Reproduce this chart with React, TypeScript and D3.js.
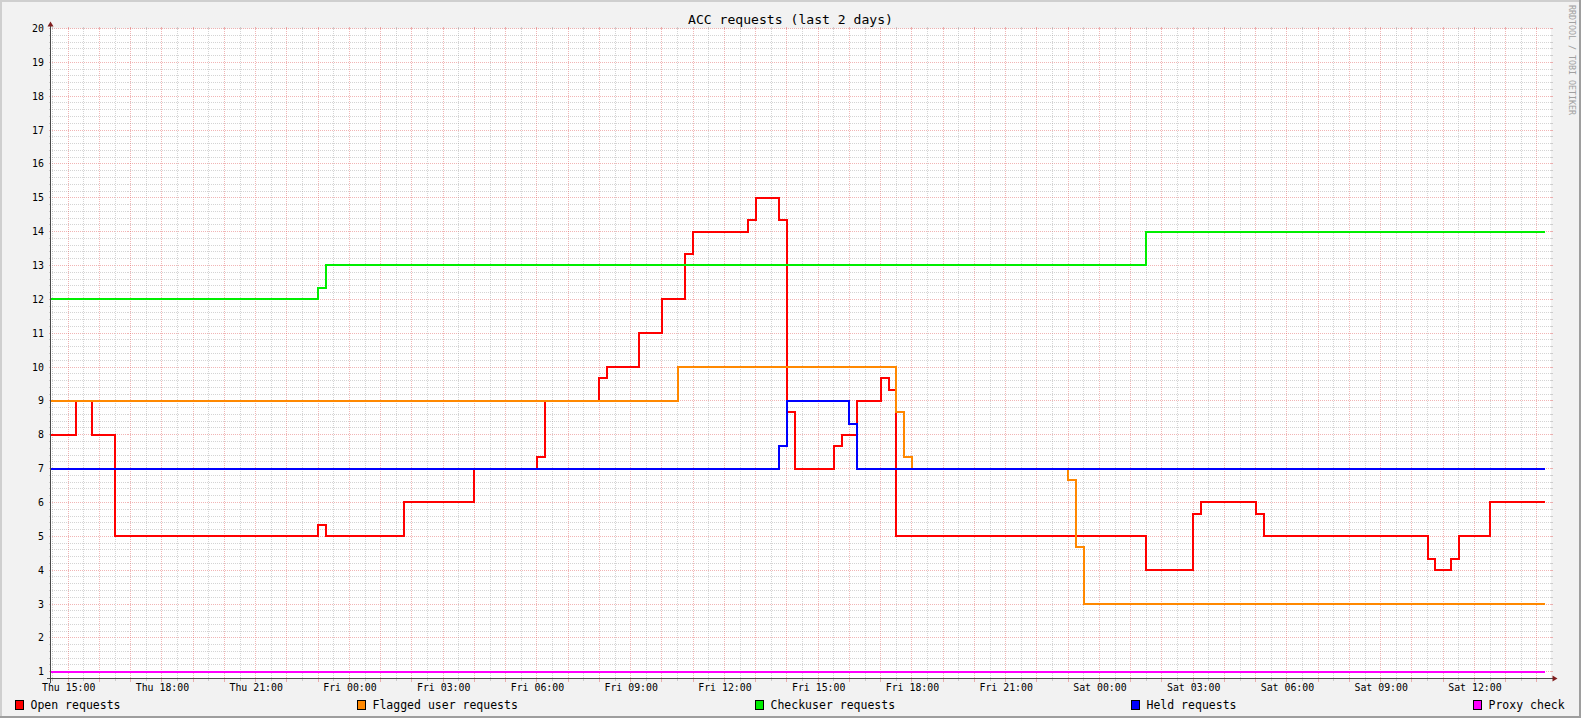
import React from 'react';
import * as d3 from 'd3';

// ---------------- data ----------------
const TITLE = 'ACC requests (last 2 days)';
const WATERMARK = 'RRDTOOL / TOBI OETIKER';

const RANGE_START = 'Thu 14:26';
const RANGE_END = 'Sat 14:26';
const DATA_END = 'Sat 14:15';

const Y_MIN = 0.8;
const Y_MAX = 20;
const yTickValues = [1, 2, 3, 4, 5, 6, 7, 8, 9, 10, 11, 12, 13, 14, 15, 16, 17, 18, 19, 20];

const seriesNames = ['Open requests', 'Flagged user requests', 'Checkuser requests', 'Held requests', 'Proxy check'];

const openTimes = ['Thu 14:26', 'Thu 15:15', 'Thu 15:45', 'Thu 16:30', 'Thu 23:00', 'Thu 23:15', 'Fri 01:45', 'Fri 04:00', 'Fri 06:00', 'Fri 06:15', 'Fri 08:00', 'Fri 08:15', 'Fri 09:15', 'Fri 10:00', 'Fri 10:45', 'Fri 11:00', 'Fri 12:45', 'Fri 13:00', 'Fri 13:45', 'Fri 14:00', 'Fri 14:15', 'Fri 15:30', 'Fri 15:45', 'Fri 16:15', 'Fri 17:00', 'Fri 17:15', 'Fri 17:30', 'Sat 01:30', 'Sat 03:00', 'Sat 03:15', 'Sat 05:00', 'Sat 05:15', 'Sat 10:30', 'Sat 10:45', 'Sat 11:15', 'Sat 11:30', 'Sat 12:30'];
const openValues = [8, 9, 8, 5, 5.33, 5, 6, 7, 7.33, 9, 9.67, 10, 11, 12, 13.33, 14, 14.33, 15, 14.33, 8.67, 7, 7.67, 8, 9, 9.67, 9.33, 5, 4, 5.67, 6, 5.67, 5, 4.33, 4, 4.33, 5, 6];

const flaggedTimes = ['Thu 14:26', 'Fri 10:30', 'Fri 17:30', 'Fri 17:45', 'Fri 18:00', 'Fri 23:00', 'Fri 23:15', 'Fri 23:30'];
const flaggedValues = [9, 10, 8.67, 7.33, 7, 6.67, 4.67, 3];

const checkuserTimes = ['Thu 14:26', 'Thu 23:00', 'Thu 23:15', 'Sat 01:30'];
const checkuserValues = [12, 12.33, 13, 14];

const heldTimes = ['Thu 14:26', 'Fri 13:45', 'Fri 14:00', 'Fri 16:00', 'Fri 16:15'];
const heldValues = [7, 7.67, 9, 8.33, 7];

const proxyTimes = ['Thu 14:26'];
const proxyValues = [1];

// ---------------- styles / layout ----------------
const W = 1581;
const H = 718;
const X0 = 50.5;
const XSIZE = 1500;
const Y0 = 678.5;
const YSIZE = 650;
const X1 = X0 + XSIZE;
const Y1 = Y0 - YSIZE;
const FONT = "'DejaVu Sans Mono', monospace";
const seriesColors = ['#FF0000', '#FF8800', '#00EE00', '#0000FF', '#FF00FF'];
const legendBoxX = [15.5, 357.5, 755.5, 1131.5, 1473.5];
const MINOR = 'rgba(143,143,143,0.38)';
const MAJOR = 'rgba(222,79,79,0.42)';

const DAYS: Record<string, number> = { Thu: 0, Fri: 1, Sat: 2 };
function parseT(s: string): Date {
  const [d, hm] = s.split(' ');
  const [h, m] = hm.split(':').map(Number);
  return new Date(2024, 0, 4 + DAYS[d], h, m);
}

export default function App() {
  const start = parseT(RANGE_START);
  const end = parseT(RANGE_END);
  const dataEnd = parseT(DATA_END);
  const x = d3.scaleTime().domain([start, end]).range([X0, X1]);
  const y = d3.scaleLinear().domain([Y_MIN, Y_MAX]).range([Y0, Y1]);
  const px = (v: number) => Math.round(v - 0.5) + 0.5;

  const series = [
    [openTimes, openValues],
    [flaggedTimes, flaggedValues],
    [checkuserTimes, checkuserValues],
    [heldTimes, heldValues],
    [proxyTimes, proxyValues],
  ].map(([ts, vs]) => {
    const pts: [Date, number][] = (ts as string[]).map((t, i) => [parseT(t), (vs as number[])[i]]);
    pts.push([dataEnd, (vs as number[])[(vs as number[]).length - 1]]);
    return pts;
  });

  const line = d3
    .line<[Date, number]>()
    .x((d) => Math.round(x(d[0])))
    .y((d) => Math.round(y(d[1])))
    .curve(d3.curveStepAfter);

  // horizontal grid
  const hgrid: JSX.Element[] = [];
  for (let k = Math.round(Y_MIN * 5) + 1; k <= Math.round(Y_MAX * 5); k++) {
    const v = k / 5;
    const yy = px(y(v));
    const major = k % 5 === 0;
    const c = major ? MAJOR : MINOR;
    hgrid.push(
      <g key={'h' + k}>
        <line x1={X0 - 2} x2={X0} y1={yy} y2={yy} stroke={c} />
        <line x1={X1} x2={X1 + 2} y1={yy} y2={yy} stroke={c} />
        <line x1={X0 + 1} x2={X1} y1={yy} y2={yy} stroke={c} strokeDasharray="1,1" />
      </g>
    );
  }

  // vertical grid
  const vgrid: JSX.Element[] = [];
  const halfHours = d3.timeMinute.every(30)!.range(start, end);
  halfHours.forEach((t, i) => {
    const xx = px(x(t));
    const major = t.getMinutes() === 0;
    const c = major ? MAJOR : MINOR;
    vgrid.push(
      <g key={'v' + i}>
        <line x1={xx} x2={xx} y1={Y1 - 2} y2={Y1} stroke={c} />
        <line x1={xx} x2={xx} y1={Y0} y2={Y0 + (major ? 3 : 2)} stroke={c} />
        <line x1={xx} x2={xx} y1={Y1} y2={Y0} stroke={c} strokeDasharray="1,1" />
      </g>
    );
  });

  const labelTimes = d3.timeHour.every(3)!.range(start, end);
  const fmt = d3.timeFormat('%a %H:%M');

  return (
    <svg
      width={W}
      height={H}
      viewBox={`0 0 ${W} ${H}`}
      style={{ position: 'absolute', left: 0, top: 0, display: 'block' }}
      fontFamily={FONT}
    >
      <rect x={0} y={0} width={W} height={H} fill="#F2F2F2" />
      {/* frame */}
      <rect x={0} y={0} width={W} height={2} fill="#CFCFCF" />
      <rect x={0} y={0} width={2} height={H} fill="#CFCFCF" />
      <rect x={0} y={H - 2} width={W} height={2} fill="#9E9E9E" />
      <rect x={W - 2} y={0} width={2} height={H} fill="#9E9E9E" />

      {/* canvas */}
      <rect x={X0} y={Y1} width={XSIZE + 0.5} height={YSIZE} fill="#FFFFFF" />

      <g shapeRendering="crispEdges" strokeWidth={1}>
        {hgrid}
        {vgrid}
      </g>

      {/* y labels */}
      {yTickValues.map((v) => (
        <text key={'yl' + v} x={44} y={px(y(v)) + 3.5} fontSize={9.9} textAnchor="end" fill="#000">
          {v}
        </text>
      ))}

      {/* x labels */}
      {labelTimes.map((t, i) => (
        <text key={'xl' + i} x={x(t) + 0.5} y={691} fontSize={9.9} textAnchor="middle" fill="#000">
          {fmt(t)}
        </text>
      ))}

      {/* data lines */}
      {series.map((pts, i) => (
        <path key={'s' + i} d={line(pts) || ''} fill="none" stroke={seriesColors[i]} strokeWidth={2} />
      ))}

      {/* axes */}
      <g shapeRendering="crispEdges">
        <line x1={X0 - 4} x2={X1 + 4} y1={Y0} y2={Y0} stroke="#4A4A4A" strokeWidth={1} />
        <line x1={X0} x2={X0} y1={Y0 + 4} y2={Y1 - 4} stroke="#4A4A4A" strokeWidth={1} />
      </g>
      <polygon points={`${X1 + 2},${Y0 - 3} ${X1 + 2},${Y0 + 3} ${X1 + 7},${Y0}`} fill="#801F1F" />
      <polygon points={`${X0 - 3},${Y1 - 2} ${X0 + 3},${Y1 - 2} ${X0},${Y1 - 7}`} fill="#801F1F" />

      {/* title */}
      <text x={W / 2} y={24} fontSize={13.1} textAnchor="middle" fill="#000">
        {TITLE}
      </text>

      {/* watermark */}
      <text transform={`translate(1568.5, 5) rotate(90)`} fontSize={8.3} fill="#A0A0A0">
        {WATERMARK}
      </text>

      {/* legend */}
      {seriesNames.map((n, i) => (
        <g key={'lg' + i}>
          <rect x={legendBoxX[i]} y={700.5} width={8} height={9} fill={seriesColors[i]} stroke="#000" strokeWidth={1} shapeRendering="crispEdges" />
          <text x={legendBoxX[i] + 15} y={708.5} fontSize={11.5} fill="#000">
            {n}
          </text>
        </g>
      ))}
    </svg>
  );
}
